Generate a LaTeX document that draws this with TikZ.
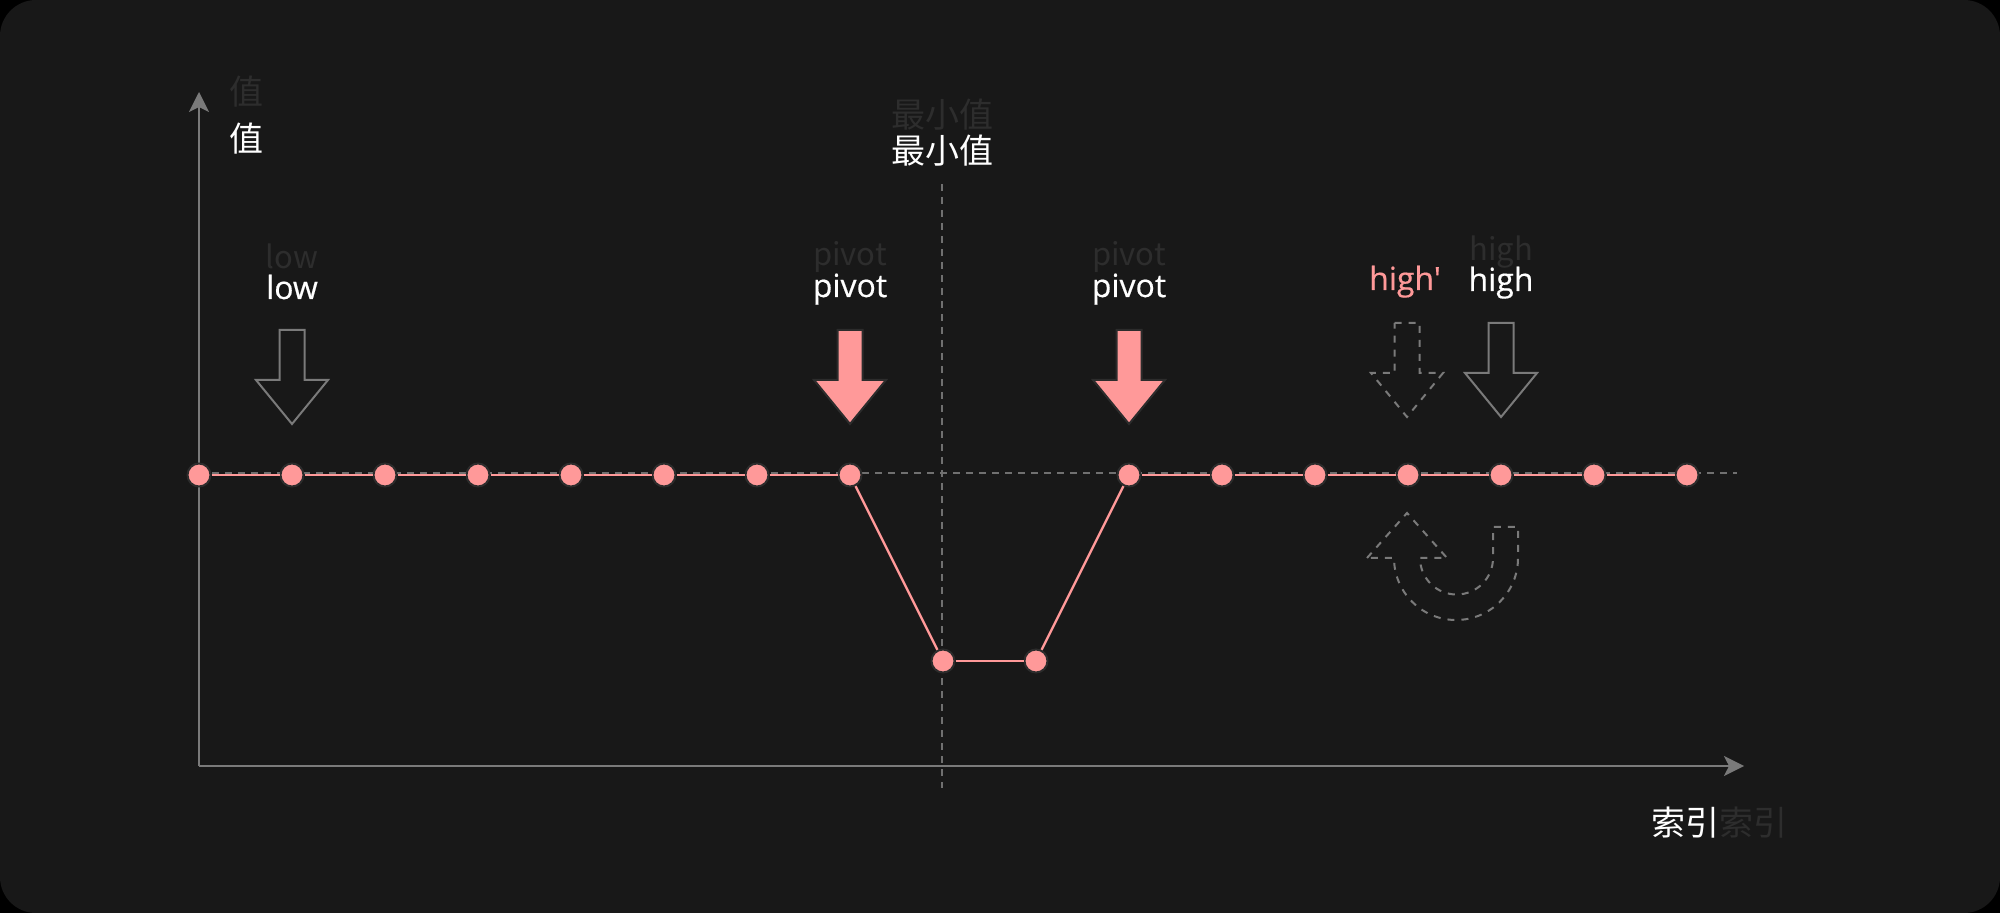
\documentclass[tikz,border=0pt]{standalone}
\usepackage{fontspec}
\setmainfont{Open Sans}
\newfontfamily\cjk{Noto Sans CJK SC}
\newfontfamily\labelfont{Open Sans}[FakeBold=0.5]
\usepackage{xcolor}
\usepackage{tikz}
\usetikzlibrary{arrows.meta}
\definecolor{bgdark}{HTML}{181818}
\definecolor{pinkdot}{HTML}{FF9999}
\definecolor{axisgray}{HTML}{7A7A7A}
\definecolor{dashgray}{HTML}{707070}
\definecolor{ghost}{HTML}{2D2D2D}
\definecolor{rimdark}{HTML}{2C2C2C}

\tikzset{
  dot/.style={circle,fill=pinkdot,draw=rimdark,line width=1pt,minimum size=11.5pt,inner sep=0pt},
  trace/.style={pinkdot,line width=1.2pt},
  guide/.style={dashgray,line width=1pt,dash pattern=on 3.5pt off 3pt},
  axis/.style={axisgray,line width=1pt,-{Stealth[length=10pt,width=10pt,inset=2.5pt]}},
  lbl/.style={white,font=\labelfont\fontsize{16}{19}\selectfont,inner sep=0pt},
  ghostlbl/.style={ghost,font=\cjk\fontsize{15.5}{18}\selectfont,inner sep=0pt},
  hanzi/.style={white,font=\cjk\fontsize{17}{20}\selectfont,inner sep=0pt},
  ghosthanzi/.style={ghost,font=\cjk\fontsize{17}{20}\selectfont,inner sep=0pt},
  hollow/.style={draw=axisgray,line width=1pt},
  hollowdash/.style={draw=axisgray,line width=1pt,dash pattern=on 3.5pt off 3.5pt},
  solidpink/.style={fill=pinkdot,draw=rimdark,line width=1pt},
  downarrow/.pic={\path[pic actions] (-12.5,0) -- (12.5,0) -- (12.5,50) -- (36,50)
    -- (0,94) -- (-36,50) -- (-12.5,50) -- cycle;}
}

\begin{document}
\begin{tikzpicture}[x=0.5pt,y=-0.5pt]
  % canvas
  \fill[black] (0,0) rectangle (2000,913);
  \fill[bgdark,rounded corners=18pt] (0,0) rectangle (2000,913);
  % axes
  \coordinate (origin) at (199,766);
  \coordinate (ytip) at (199,92);
  \coordinate (xtip) at (1744,766);
  \draw[axis] (origin) -- (ytip);
  \draw[axis] (origin) -- (xtip);
  \node[ghosthanzi] (yghost) at (246,91.5) {值};
  \node[hanzi] (ylabel) at (246,138.5) {值};
  \node[hanzi] (xlabel) at (1685,822.5) {索引};
  \node[ghosthanzi,anchor=west] (xghost) at (xlabel.east) {索引};
  % guide lines
  \coordinate (hstart) at (199,473);
  \coordinate (hend) at (1737,473);
  \draw[guide] (hstart) -- (hend);
  \coordinate (vtop) at (942,184);
  \coordinate (vbot) at (942,788);
  \draw[guide] (vtop) -- (vbot);
  \node[ghosthanzi] (minghost) at (942,115) {最小值};
  \node[hanzi] (minlabel) at (942,150.5) {最小值};
  % data points
  \foreach \i in {0,...,16}{
    \ifnum\i=8 \def\dy{661}\else\ifnum\i=9 \def\dy{661}\else\def\dy{475}\fi\fi
    \node[dot] (d\i) at ({199+93*\i},\dy) {};
  }
  \foreach \i [evaluate=\i as \j using int(\i+1)] in {0,...,15}
    \draw[trace] (d\i) -- (d\j);
  % low
  \node[ghostlbl,anchor=base] (lowghost) at (292,269) {low};
  \node[lbl,anchor=base] (lowtxt) at (292,299) {low};
  \pic[hollow] at (292,330) {downarrow};
  % pivots
  \foreach \px/\nm in {850/pl,1129/pr}{
    \node[ghostlbl,anchor=base] (\nm ghost) at (\px,266) {pivot};
    \node[lbl,anchor=base] (\nm txt) at (\px,297) {pivot};
    \pic[solidpink] at (\px,330) {downarrow};
  }
  % high and high'
  \node[ghostlbl,anchor=base] (highghost) at (1501,261) {high};
  \node[lbl,anchor=base] (hightxt) at (1501,291) {high};
  \node[lbl,pinkdot,anchor=base] (hightxtb) at (1405,290) {high\char"0027};
  \pic[hollow] at (1501,323) {downarrow};
  \pic[hollowdash] at (1407,323) {downarrow};
  % turn-back arrow
  \draw[hollowdash] (1367,558) -- (1407,513) -- (1447,558) -- (1420,558)
    arc[start angle=180,end angle=0,radius=36.5] -- (1493,527) -- (1518,527)
    -- (1518,558) arc[start angle=0,end angle=180,radius=62] -- cycle;
\end{tikzpicture}
\end{document}
